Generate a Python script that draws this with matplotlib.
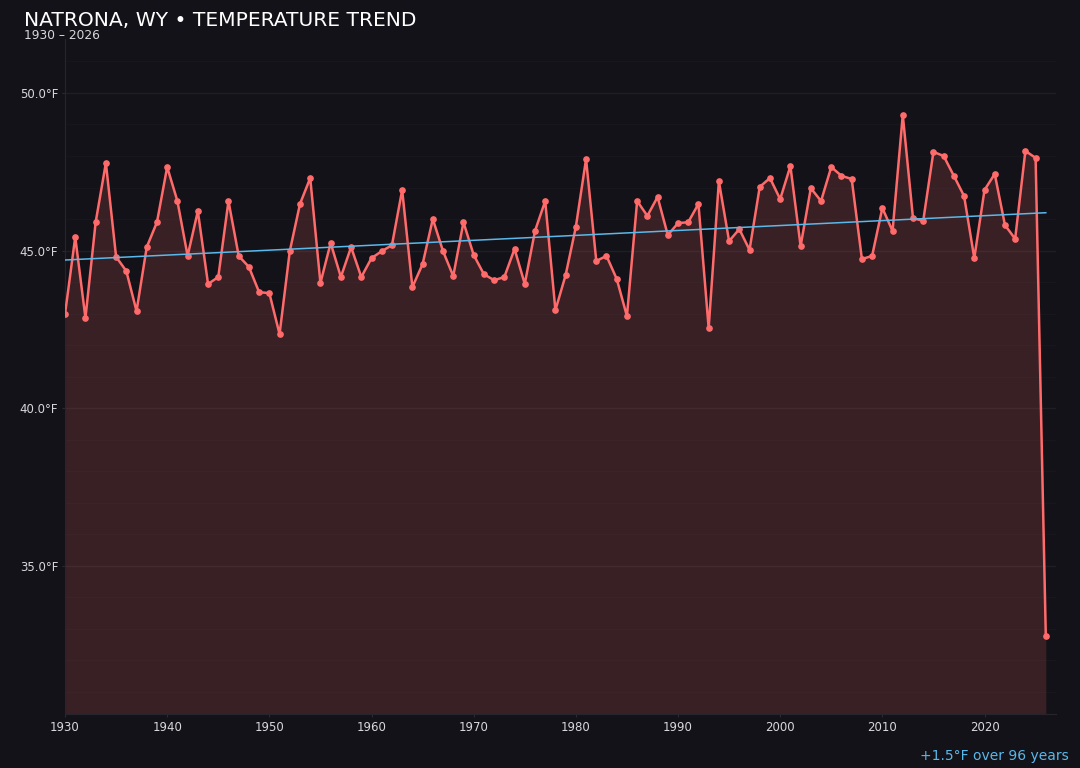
import numpy as np
import matplotlib
matplotlib.use("Agg")
import matplotlib.pyplot as plt

BG = "#131218"
RED = "#ff6b6b"
BLUE = "#5ab8ea"
TXT = "#d8d8dc"

years = list(range(1930, 2027))
temps = [
    42.98, 45.43, 42.86, 45.90, 47.78, 44.80, 44.35, 43.08, 45.11, 45.90,  # 1930s
    47.65, 46.57, 44.83, 46.25, 43.94, 44.16, 46.57, 44.83, 44.48, 43.68,  # 1940s
    43.65, 42.35, 44.98, 46.48, 47.30, 43.97, 45.24, 44.16, 45.11, 44.16,  # 1950s
    44.76, 44.98, 45.17, 46.92, 43.84, 44.57, 46.00, 44.98, 44.19, 45.90,  # 1960s
    44.86, 44.25, 44.06, 44.16, 45.05, 43.94, 45.62, 46.57, 43.11, 44.22,  # 1970s
    45.75, 47.90, 44.67, 44.83, 44.10, 42.92, 46.57, 46.10, 46.70, 45.49,  # 1980s
    45.87, 45.90, 46.48, 42.54, 47.20, 45.30, 45.68, 45.02, 47.02, 47.30,  # 1990s
    46.63, 47.68, 45.14, 46.98, 46.57, 47.65, 47.37, 47.27, 44.73, 44.83,  # 2000s
    46.35, 45.62, 49.30, 46.03, 45.94, 48.13, 48.00, 47.37, 46.73, 44.76,  # 2010s
    46.92, 47.43, 45.81, 45.37, 48.16, 47.94, 32.76,                       # 2020s
]
trend_start, trend_end = 44.70, 46.20
y_ticks = [35.0, 40.0, 45.0, 50.0]

x = np.array(years)
y = np.array(temps)
y_lo, y_hi = 30.3, 51.7

fig = plt.figure(figsize=(10.8, 7.68), dpi=100, facecolor=BG)
ax = fig.add_axes([0.0602, 0.0703, 0.9176, 0.8785], facecolor=BG)

ax.fill_between(x, y, y_lo, color=RED, alpha=0.16, linewidth=0, zorder=1)
ax.plot(x, y, color=RED, linewidth=1.8, marker="o", markersize=3.8, zorder=3)
ax.plot([years[0], years[-1]], [trend_start, trend_end], color=BLUE, linewidth=1.1, zorder=4)

ax.set_xlim(1930, 2027)
ax.set_ylim(y_lo, y_hi)
ax.set_yticks(y_ticks)
ax.set_yticklabels([f"{v:.1f}°F" for v in y_ticks])
ax.set_xticks(range(1930, 2021, 10))
ax.yaxis.set_minor_locator(matplotlib.ticker.MultipleLocator(1))
ax.grid(axis="y", which="major", color="white", alpha=0.05, linewidth=1.0, zorder=2)
ax.grid(axis="y", which="minor", color="white", alpha=0.018, linewidth=0.8, zorder=2)
ax.tick_params(colors=TXT, labelsize=8.5, length=2.5, pad=2.5, color="#2c2b34")
ax.tick_params(which="minor", length=0)
for side in ["top", "right"]:
    ax.spines[side].set_visible(False)
for side in ["left", "bottom"]:
    ax.spines[side].set_color("#26252e")

fig.text(0.022, 0.973, "NATRONA, WY • TEMPERATURE TREND", color="white",
         fontsize=14.6, ha="left", va="center")
fig.text(0.022, 0.954, "1930 – 2026", color=TXT, fontsize=8.8, ha="left", va="center")
fig.text(0.99, 0.016, "+1.5°F over 96 years", color=BLUE, fontsize=10,
         ha="right", va="center")

fig.savefig("out.png", dpi=100, facecolor=BG)
